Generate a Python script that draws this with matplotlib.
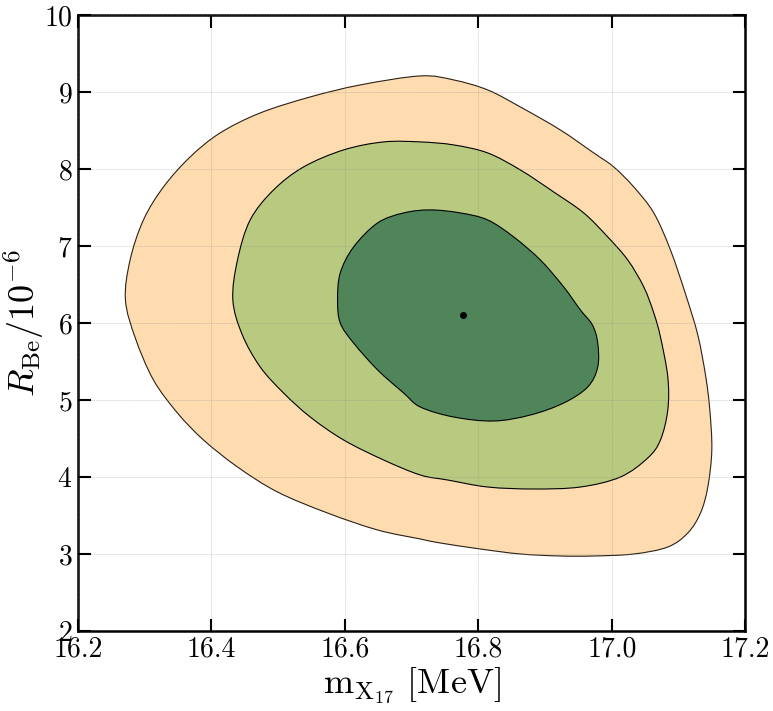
import numpy as np
import matplotlib
matplotlib.use('Agg')
import matplotlib.pyplot as plt
from matplotlib.path import Path
from matplotlib.patches import PathPatch

plt.rcParams['font.family'] = 'serif'
plt.rcParams['font.serif'] = ['cmr10']
plt.rcParams['mathtext.fontset'] = 'cm'
plt.rcParams['axes.formatter.use_mathtext'] = True

# contour boundaries (m_X17 [MeV], R_Be / 1e-6)
outer_x = [16.271, 16.278, 16.298, 16.328, 16.368, 16.413, 16.473, 16.548, 16.623, 16.713,
           16.763, 16.814, 16.863, 16.923, 16.973, 17.003, 17.033, 17.063, 17.088, 17.111,
           17.129, 17.141, 17.147, 17.150, 17.144, 17.133, 17.114, 17.084, 17.033, 16.973,
           16.923, 16.863, 16.803, 16.743, 16.713, 16.649, 16.574, 16.499, 16.439, 16.388,
           16.349, 16.313, 16.286]
outer_y = [6.300, 6.818, 7.338, 7.766, 8.156, 8.468, 8.727, 8.935, 9.091, 9.208,
           9.156, 9.026, 8.805, 8.506, 8.208, 8.026, 7.766, 7.429, 6.948, 6.364,
           5.844, 5.299, 4.870, 4.351, 3.870, 3.532, 3.273, 3.091, 3.000, 2.974,
           2.974, 3.000, 3.065, 3.143, 3.195, 3.312, 3.532, 3.805, 4.130, 4.481,
           4.831, 5.260, 5.800]

mid_x = [16.432, 16.439, 16.458, 16.493, 16.538, 16.598, 16.658, 16.713, 16.763, 16.814,
         16.863, 16.913, 16.958, 16.994, 17.024, 17.048, 17.063, 17.073, 17.084, 17.084,
         17.073, 17.054, 17.013, 16.953, 16.883, 16.814, 16.754, 16.713, 16.658, 16.598,
         16.548, 16.508, 16.473, 16.446]
mid_y = [6.300, 6.818, 7.338, 7.727, 8.026, 8.247, 8.351, 8.351, 8.312, 8.208,
         7.987, 7.701, 7.429, 7.117, 6.818, 6.468, 6.130, 5.818, 5.299, 4.870,
         4.481, 4.247, 4.000, 3.870, 3.844, 3.870, 3.961, 4.026, 4.221, 4.481,
         4.779, 5.091, 5.429, 5.850]

inner_x = [16.589, 16.593, 16.613, 16.649, 16.688, 16.728, 16.773, 16.814, 16.853, 16.893,
           16.928, 16.953, 16.971, 16.979, 16.979, 16.964, 16.928, 16.878, 16.823, 16.763,
           16.713, 16.688, 16.649, 16.613, 16.593]
inner_y = [6.299, 6.649, 6.987, 7.299, 7.429, 7.468, 7.429, 7.338, 7.117, 6.818,
           6.468, 6.169, 5.974, 5.740, 5.429, 5.169, 4.961, 4.805, 4.727, 4.779,
           4.909, 5.091, 5.390, 5.740, 6.000]

best_x = 16.777
best_y = 6.104


def smooth_closed_path(xs, ys):
    # closed Catmull-Rom curve through the read points, as cubic Bezier segments
    p = np.column_stack([xs, ys])
    n = len(p)
    verts = [p[0]]
    codes = [Path.MOVETO]
    for i in range(n):
        p0, p1, p2, p3 = p[i - 1], p[i], p[(i + 1) % n], p[(i + 2) % n]
        verts += [p1 + (p2 - p0) / 6, p2 - (p3 - p1) / 6, p2]
        codes += [Path.CURVE4] * 3
    verts.append(p[0])
    codes.append(Path.CLOSEPOLY)
    return Path(verts, codes)


fig = plt.figure(figsize=(7.73, 7.11), dpi=100)
ax = fig.add_axes([0.101, 0.1125, 0.863, 0.8665])

ax.add_patch(PathPatch(smooth_closed_path(outer_x, outer_y), facecolor='#fedcb0',
                       edgecolor='#2a2015', lw=0.8, zorder=1))
ax.add_patch(PathPatch(smooth_closed_path(mid_x, mid_y), facecolor='#b8ca80',
                       edgecolor='k', lw=0.8, zorder=2))
ax.add_patch(PathPatch(smooth_closed_path(inner_x, inner_y), facecolor='#50855a',
                       edgecolor='k', lw=0.8, zorder=3))
ax.plot(best_x, best_y, 'o', color='k', ms=4, zorder=5)

ax.set_xlim(16.2, 17.2)
ax.set_ylim(2, 10)
ax.set_xticks([16.2, 16.4, 16.6, 16.8, 17.0, 17.2])
ax.set_xticklabels(['16.2', '16.4', '16.6', '16.8', '17.0', '17.2'])
ax.set_yticks(range(2, 11))

ax.grid(True, color='#888888', alpha=0.35, lw=0.6, ls=(0, (2, 1)), zorder=4)
ax.set_axisbelow(False)

ax.tick_params(direction='in', length=9, width=1.5, labelsize=20,
               top=True, right=True, pad=4)
for s in ax.spines.values():
    s.set_linewidth(1.8)

ax.set_xlabel(r'$\mathrm{m}_{\mathrm{X}_{17}}\ [\mathrm{MeV}]$', fontsize=26, labelpad=2)
ax.set_ylabel(r'$R_{\mathrm{Be}}/10^{-6}$', fontsize=26)
ax.yaxis.set_label_coords(-0.048, 0.5)

fig.savefig('out.png', dpi=100)
